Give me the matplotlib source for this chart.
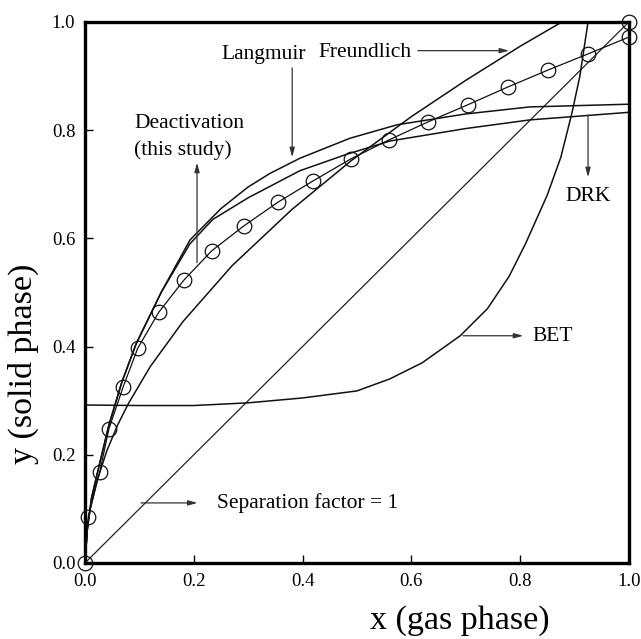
"""Equilibrium curves y vs x for several isotherm models plus the deactivation data."""

import matplotlib.pyplot as plt

plt.rcParams["font.family"] = ["Liberation Serif", "DejaVu Serif"]

# deactivation model points (open circles joined by a line)
deact_x = [0.0, 0.006, 0.027, 0.044, 0.070, 0.097, 0.136, 0.182, 0.233, 0.292,
           0.355, 0.419, 0.489, 0.559, 0.630, 0.704, 0.778, 0.851, 0.925, 1.0]
deact_y = [0.0, 0.085, 0.168, 0.248, 0.325, 0.397, 0.464, 0.523, 0.577, 0.623,
           0.667, 0.706, 0.747, 0.782, 0.815, 0.847, 0.880, 0.911, 0.941, 0.972]
end_x = [1.0]
end_y = [1.0]

# Langmuir (upper plateau)
lang_x = [0.0, 0.004, 0.012, 0.026, 0.044, 0.068, 0.094, 0.14, 0.193, 0.25,
          0.30, 0.34, 0.395, 0.487, 0.574, 0.70, 0.818, 1.0]
lang_y = [0.0, 0.06, 0.12, 0.18, 0.255, 0.335, 0.405, 0.50, 0.597, 0.655,
          0.695, 0.72, 0.748, 0.785, 0.81, 0.83, 0.843, 0.848]

# DRK (lower plateau)
drk_x = [0.0, 0.004, 0.012, 0.026, 0.044, 0.068, 0.094, 0.14, 0.193, 0.235,
         0.30, 0.395, 0.48, 0.561, 0.70, 0.818, 1.0]
drk_y = [0.0, 0.06, 0.12, 0.18, 0.255, 0.335, 0.405, 0.50, 0.59, 0.635,
         0.675, 0.725, 0.755, 0.78, 0.803, 0.819, 0.833]

# Freundlich
freu_x = [0.0, 0.005, 0.01, 0.02, 0.04, 0.06, 0.08, 0.12, 0.18, 0.27,
          0.38, 0.49, 0.60, 0.70, 0.80, 0.877]
freu_y = [0.0, 0.072, 0.102, 0.145, 0.207, 0.255, 0.295, 0.363, 0.446, 0.549,
          0.653, 0.744, 0.825, 0.892, 0.955, 1.0]

# BET
bet_x = [0.0, 0.1, 0.2, 0.3, 0.4, 0.5, 0.56, 0.62, 0.69, 0.74, 0.78, 0.81,
         0.85, 0.875, 0.895, 0.91, 0.925]
bet_y = [0.292, 0.291, 0.291, 0.296, 0.305, 0.318, 0.34, 0.37, 0.42, 0.47, 0.53,
         0.59, 0.68, 0.75, 0.83, 0.90, 1.0]

# separation factor = 1
diag_x = [0.0, 1.0]
diag_y = [0.0, 1.0]

ticks = [0.0, 0.2, 0.4, 0.6, 0.8, 1.0]
tick_labels = ["0.0", "0.2", "0.4", "0.6", "0.8", "1.0"]


def arrow(ax, start, end):
    ax.annotate("", xy=end, xytext=start, xycoords="data",
                arrowprops=dict(arrowstyle="-|>,head_length=0.55,head_width=0.15",
                                color="#333333", lw=0.9, shrinkA=0, shrinkB=0))


def main() -> None:
    fig = plt.figure(figsize=(6.41, 6.39), dpi=100)
    ax = fig.add_axes([0.1326, 0.119, 0.8484, 0.8466])

    lw = 1.1
    ax.plot(diag_x, diag_y, color="#222222", lw=0.9)
    ax.plot(lang_x, lang_y, color="#111111", lw=lw)
    ax.plot(drk_x, drk_y, color="#111111", lw=lw)
    ax.plot(freu_x, freu_y, color="#111111", lw=lw)
    ax.plot(bet_x, bet_y, color="#111111", lw=lw)
    ax.plot(deact_x, deact_y, color="#111111", lw=0.9, marker="o", ms=10.5,
            mfc="none", mec="#111111", mew=0.9, clip_on=False, zorder=5)
    ax.plot(end_x, end_y, ls="none", marker="o", ms=10.5, mfc="none",
            mec="#111111", mew=0.9, clip_on=False, zorder=5)

    ax.set_xlim(0, 1)
    ax.set_ylim(0, 1)
    ax.set_xticks(ticks)
    ax.set_xticklabels(tick_labels)
    ax.set_yticks(ticks)
    ax.set_yticklabels(tick_labels)
    ax.tick_params(direction="in", length=6, width=1.0, labelsize=13.5, pad=7,
                   top=False, right=False)
    for sp in ax.spines.values():
        sp.set_linewidth(2.4)

    # axis titles sit off-centre
    ax.set_xlabel("x (gas phase)", fontsize=24.5, va="center", ha="center")
    ax.xaxis.set_label_coords(0.689, -0.107)
    ax.set_ylabel("y (solid phase)", fontsize=24.5, va="center", ha="center")
    ax.yaxis.set_label_coords(-0.114, 0.368)

    fs = 15.5
    ax.text(0.329, 0.94, "Langmuir", fontsize=fs, ha="center", va="center")
    arrow(ax, (0.381, 0.915), (0.381, 0.75))
    ax.text(0.43, 0.944, "Freundlich", fontsize=fs, ha="left", va="center")
    arrow(ax, (0.612, 0.947), (0.78, 0.947))
    ax.text(0.09, 0.813, "Deactivation", fontsize=fs, ha="left", va="center")
    ax.text(0.09, 0.763, "(this study)", fontsize=fs, ha="left", va="center")
    arrow(ax, (0.206, 0.555), (0.206, 0.74))
    ax.text(0.925, 0.677, "DRK", fontsize=fs, ha="center", va="center")
    arrow(ax, (0.925, 0.828), (0.925, 0.713))
    ax.text(0.822, 0.418, "BET", fontsize=fs, ha="left", va="center")
    arrow(ax, (0.695, 0.42), (0.806, 0.42))
    ax.text(0.243, 0.111, "Separation factor = 1", fontsize=fs, ha="left",
            va="center")
    arrow(ax, (0.103, 0.111), (0.207, 0.111))

    fig.savefig("out.png", dpi=100)


if __name__ == "__main__":
    main()
